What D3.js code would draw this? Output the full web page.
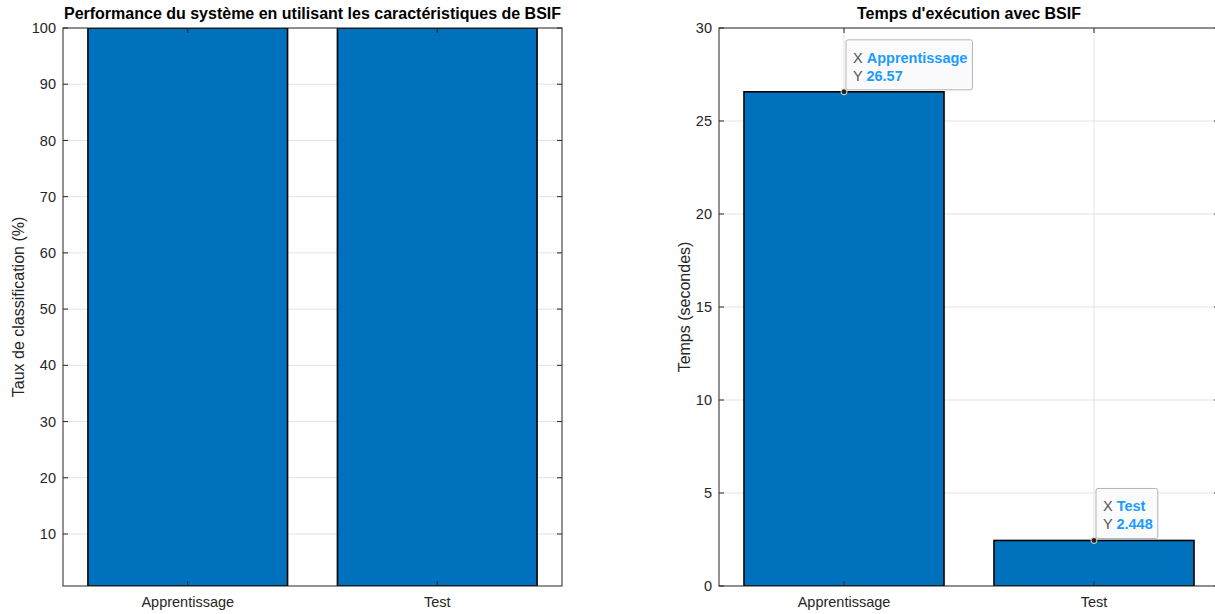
<!DOCTYPE html>
<html>
<head>
<meta charset="utf-8">
<script src="https://cdn.jsdelivr.net/npm/d3@7"></script>
<style>
  html, body { margin: 0; padding: 0; background: #fff; }
  svg { display: block; }
  text { font-family: "Liberation Sans", Arial, Helvetica, sans-serif; }
</style>
</head>
<body>
<svg id="fig" width="1215" height="614"></svg>
<script>
// Categories shared by both bar charts
const categories = ["Apprentissage", "Test"];

// Classification rate (%) with BSIF features
const accuracyValues = [100, 100];
const accuracyTicks = [10, 20, 30, 40, 50, 60, 70, 80, 90, 100];

// Execution time (seconds) with BSIF
const timeValues = [26.57, 2.448];
const timeTicks = [0, 5, 10, 15, 20, 25, 30];

// Data tips shown on the execution-time chart
const tipLabels = ["Apprentissage", "Test"];
const tipValues = ["26.57", "2.448"];

const svg = d3.select("#fig");
const AXIS_COLOR = "#262626";
const GRID_COLOR = "#e3e3e3";
const BAR_COLOR = "#0072BD";
const TICK_FONT = 14.5;
const LABEL_FONT = 16;
const TITLE_FONT = 16;

function drawPanel(cfg) {
  const { left, right, top, bottom, yDomain, values, ticks, title, ylabel, vgrid } = cfg;
  const g = svg.append("g");

  const x = d3.scaleLinear().domain([0.5, categories.length + 0.5]).range([left, right]);
  const y = d3.scaleLinear().domain(yDomain).range([bottom, top]);

  // clip for the plot area (right axes runs past the window edge)
  const clipId = "clip" + Math.round(left);
  svg.append("clipPath").attr("id", clipId)
    .append("rect").attr("x", left).attr("y", top).attr("width", right - left).attr("height", bottom - top);

  const plot = g.append("g").attr("clip-path", `url(#${clipId})`);

  // horizontal grid
  plot.selectAll("line.hg").data(ticks).enter().append("line")
    .attr("x1", left).attr("x2", right)
    .attr("y1", d => y(d)).attr("y2", d => y(d))
    .attr("stroke", GRID_COLOR).attr("stroke-width", 1);

  // vertical grid
  if (vgrid) {
    plot.selectAll("line.vg").data(categories).enter().append("line")
      .attr("x1", (d, i) => x(i + 1)).attr("x2", (d, i) => x(i + 1))
      .attr("y1", top).attr("y2", bottom)
      .attr("stroke", GRID_COLOR).attr("stroke-width", 1);
  }

  // bars
  const bw = 0.8;
  plot.selectAll("rect.bar").data(values).enter().append("rect")
    .attr("x", (d, i) => x(i + 1 - bw / 2))
    .attr("width", (d, i) => x(i + 1 + bw / 2) - x(i + 1 - bw / 2))
    .attr("y", d => y(d))
    .attr("height", d => y(yDomain[0]) - y(d))
    .attr("fill", BAR_COLOR)
    .attr("stroke", "#000")
    .attr("stroke-width", 1.6);

  // tick marks (inward) on all four sides
  const tl = 5;
  ticks.forEach(t => {
    g.append("line").attr("x1", left).attr("x2", left + tl).attr("y1", y(t)).attr("y2", y(t))
      .attr("stroke", AXIS_COLOR).attr("stroke-width", 1);
    g.append("line").attr("x1", right).attr("x2", right - tl).attr("y1", y(t)).attr("y2", y(t))
      .attr("stroke", AXIS_COLOR).attr("stroke-width", 1);
  });
  categories.forEach((c, i) => {
    g.append("line").attr("x1", x(i + 1)).attr("x2", x(i + 1)).attr("y1", bottom).attr("y2", bottom - tl)
      .attr("stroke", AXIS_COLOR).attr("stroke-width", 1);
    g.append("line").attr("x1", x(i + 1)).attr("x2", x(i + 1)).attr("y1", top).attr("y2", top + tl)
      .attr("stroke", AXIS_COLOR).attr("stroke-width", 1);
  });

  // box
  g.append("rect").attr("x", left).attr("y", top).attr("width", right - left).attr("height", bottom - top)
    .attr("fill", "none").attr("stroke", AXIS_COLOR).attr("stroke-width", 1);

  // y tick labels
  g.selectAll("text.yt").data(ticks).enter().append("text")
    .attr("x", left - 7).attr("y", d => y(d)).attr("dy", "0.35em")
    .attr("text-anchor", "end").attr("font-size", TICK_FONT).attr("fill", AXIS_COLOR)
    .text(d => d);

  // x tick labels
  g.selectAll("text.xt").data(categories).enter().append("text")
    .attr("x", (d, i) => x(i + 1)).attr("y", bottom + 21)
    .attr("text-anchor", "middle").attr("font-size", TICK_FONT).attr("fill", AXIS_COLOR)
    .text(d => d);

  // title, centred over the axes
  g.append("text").attr("x", (left + right) / 2).attr("y", top - 9)
    .attr("text-anchor", "middle").attr("font-size", TITLE_FONT).attr("font-weight", "bold").attr("fill", "#000")
    .text(title);

  // y label
  g.append("text")
    .attr("transform", `translate(${cfg.ylabelX},${(top + bottom) / 2}) rotate(-90)`)
    .attr("text-anchor", "middle").attr("font-size", LABEL_FONT).attr("fill", AXIS_COLOR)
    .text(ylabel);

  return { x, y, g };
}

// Left panel: classification rate
drawPanel({
  left: 63, right: 562, top: 28, bottom: 586,
  yDomain: [0.75, 100], values: accuracyValues, ticks: accuracyTicks,
  title: "Performance du système en utilisant les caractéristiques de BSIF",
  ylabel: "Taux de classification (%)", ylabelX: 24, vgrid: false
});

// Right panel: execution time
const rp = drawPanel({
  left: 719, right: 1219, top: 28, bottom: 586,
  yDomain: [0, 30], values: timeValues, ticks: timeTicks,
  title: "Temps d'exécution avec BSIF",
  ylabel: "Temps (secondes)", ylabelX: 690, vgrid: true
});

// Data tips
timeValues.forEach((v, i) => {
  const px = rp.x(i + 1), py = rp.y(v);
  const tip = svg.append("g");
  const bx = px + 2, by = py - 52;
  const box = tip.append("rect").attr("x", bx).attr("y", by).attr("height", 50)
    .attr("rx", 2).attr("fill", "#fbfbfd").attr("stroke", "#b4b4b4").attr("stroke-width", 1);

  const t1 = tip.append("text").attr("x", bx + 7).attr("y", by + 23).attr("font-size", 14.5);
  t1.append("tspan").attr("fill", "#555").text("X ");
  t1.append("tspan").attr("fill", "#1a9cff").attr("font-weight", "bold").text(tipLabels[i]);
  const t2 = tip.append("text").attr("x", bx + 7).attr("y", by + 41).attr("font-size", 14.5);
  t2.append("tspan").attr("fill", "#555").text("Y ");
  t2.append("tspan").attr("fill", "#1a9cff").attr("font-weight", "bold").text(tipValues[i]);

  const w = Math.max(t1.node().getComputedTextLength(), t2.node().getComputedTextLength());
  box.attr("width", w + 12);

  tip.append("circle").attr("cx", px).attr("cy", py).attr("r", 3)
    .attr("fill", "#222").attr("stroke", "#e8e8d0").attr("stroke-width", 1);
});
</script>
</body>
</html>
